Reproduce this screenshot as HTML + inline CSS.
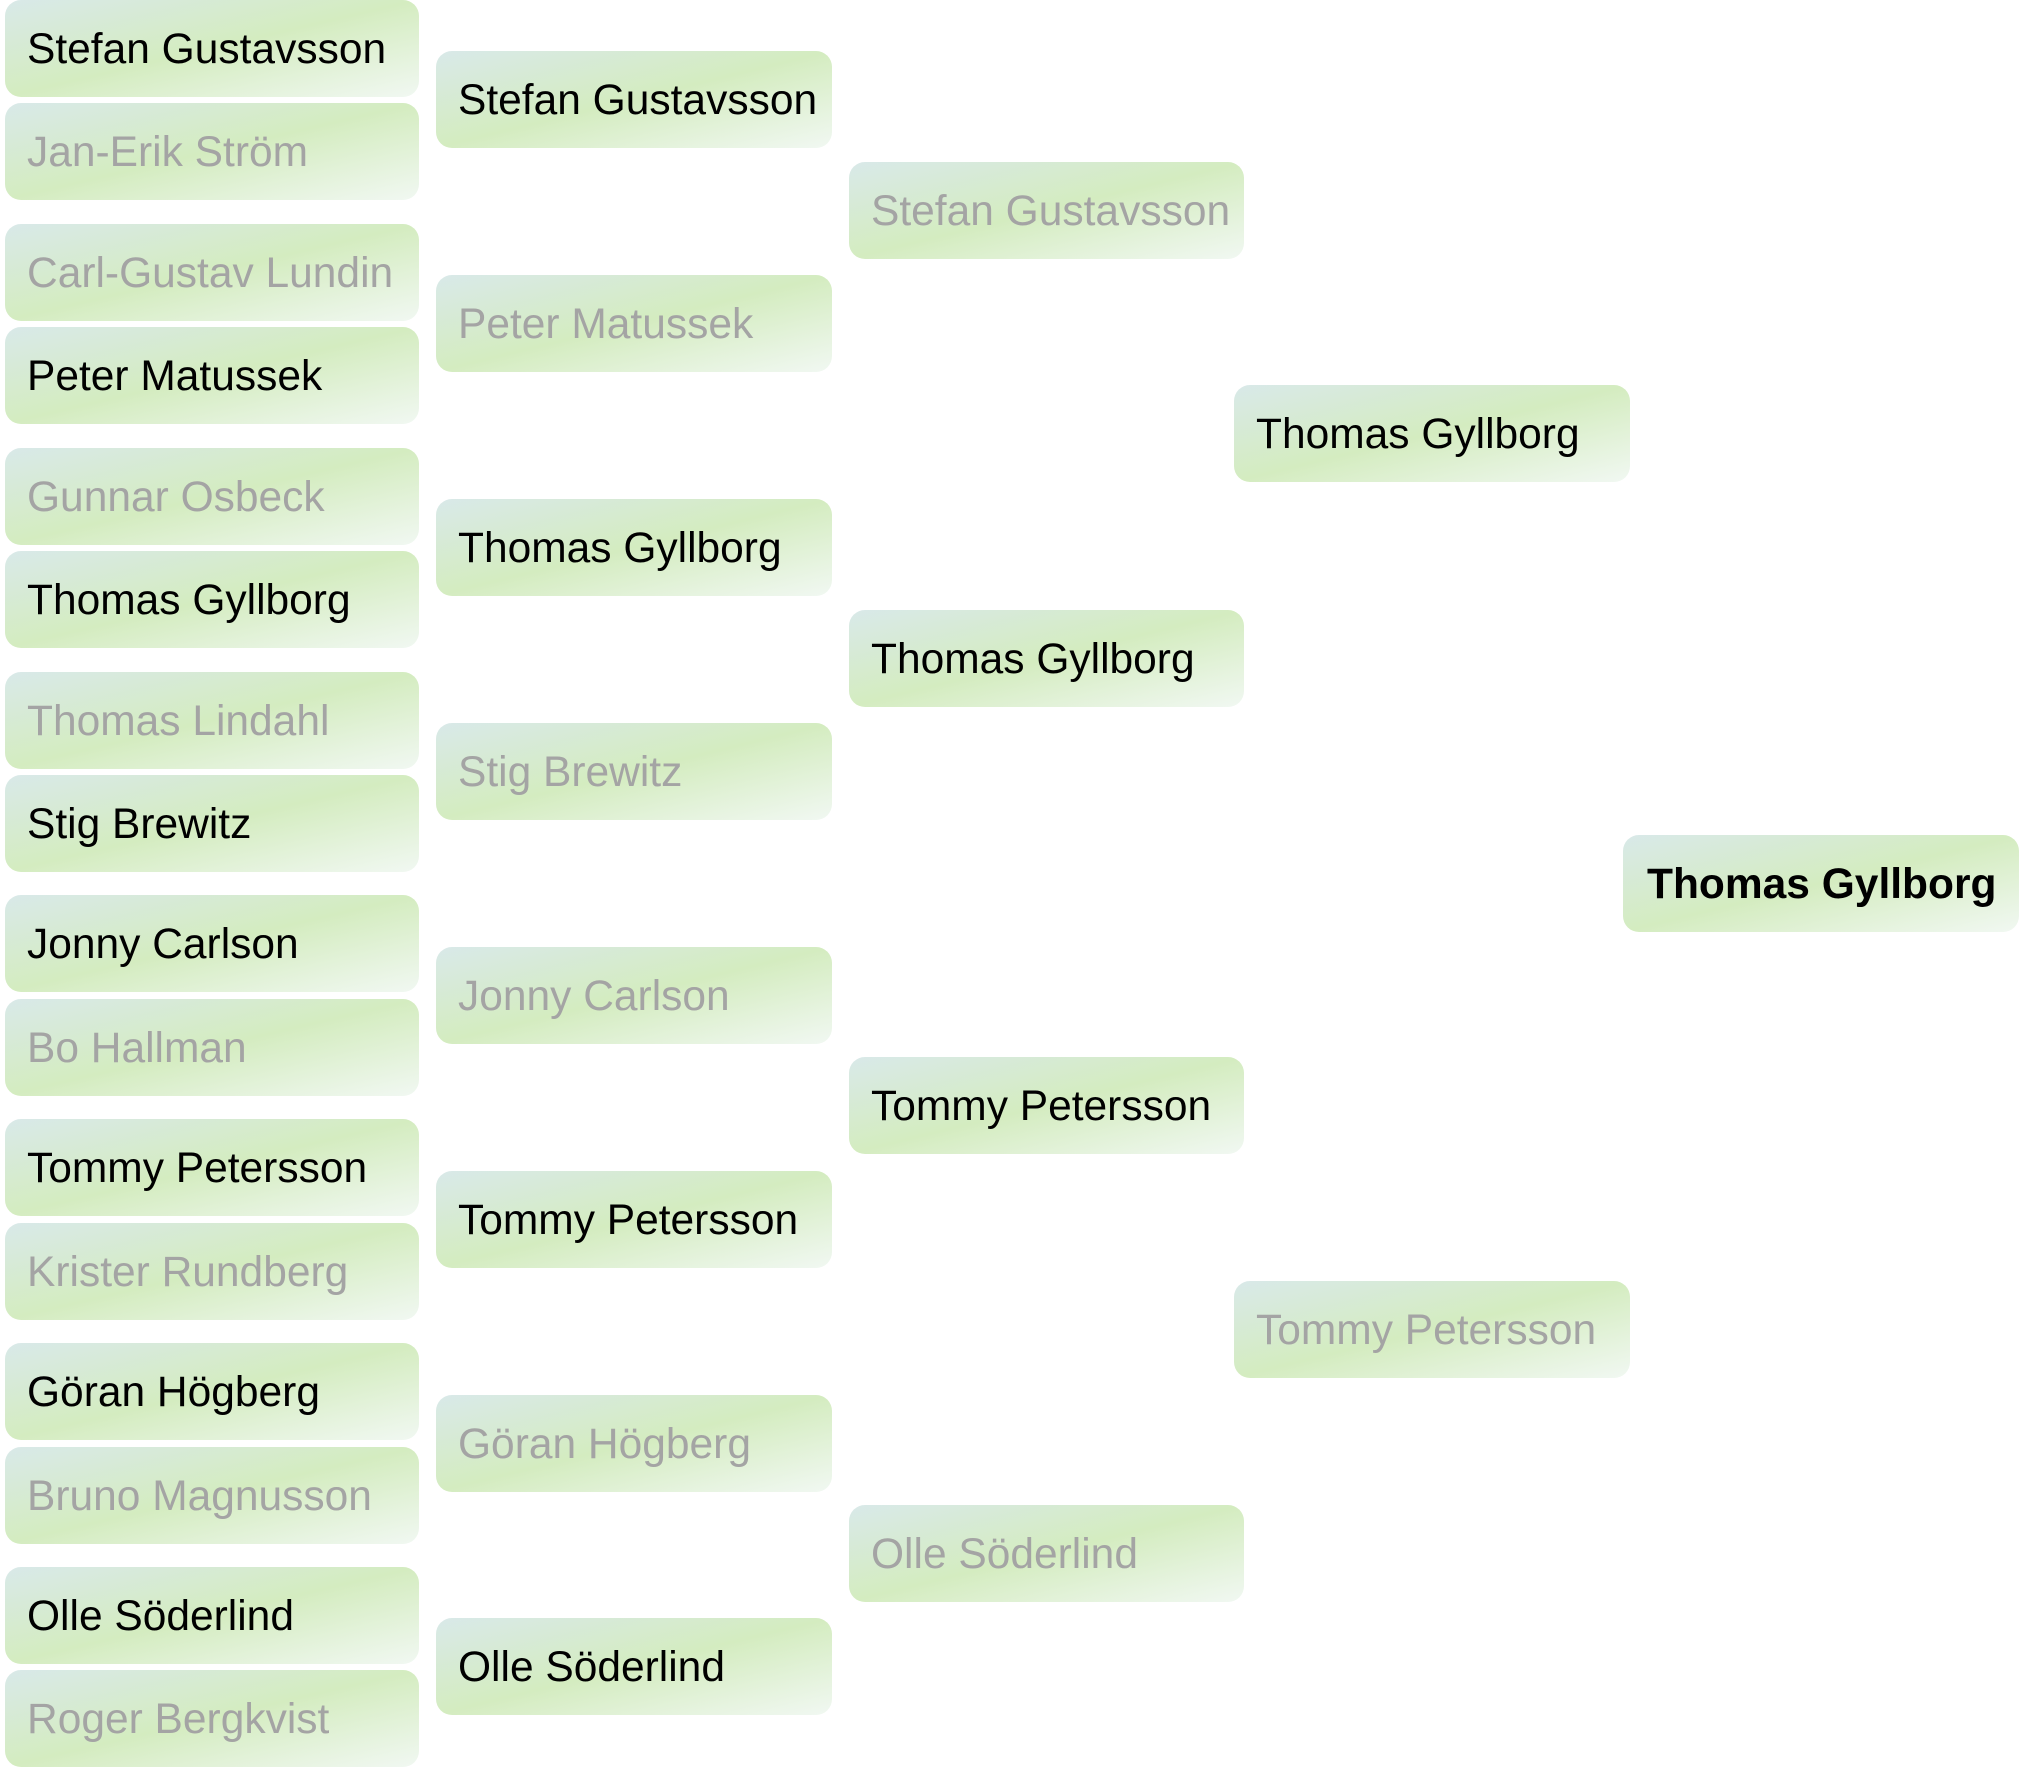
<!DOCTYPE html>
<html>
<head>
<meta charset="utf-8">
<style>
  html, body { margin:0; padding:0; background:#ffffff; }
  body { width:2022px; height:1771px; position:relative; overflow:hidden;
         font-family:"Liberation Sans", Arial, sans-serif; }
  .b { position:absolute; height:97px; border-radius:16px;
       background:linear-gradient(to bottom right, #d9e9e9 0%, #d4ecc0 50%, #f1f8f2 100%);
       display:flex; align-items:center; box-sizing:border-box; padding-left:22px; padding-top:3px;
       font-size:42.5px; white-space:nowrap; }
  .w { color:#000000; }
  .l { color:#a4a4a4; }
  .c1 { left:5px; width:414px; }
  .c2 { left:436px; width:396px; }
  .c3 { left:849px; width:395px; }
  .c4 { left:1234px; width:396px; }
  .c5 { left:1623px; width:396px; padding-left:24px; font-weight:bold; }
</style>
</head>
<body>
<!-- Column 1 -->
<div class="b c1 w" style="top:0px">Stefan Gustavsson</div>
<div class="b c1 l" style="top:103.3px">Jan-Erik Ström</div>
<div class="b c1 l" style="top:223.9px">Carl-Gustav Lundin</div>
<div class="b c1 w" style="top:327.2px">Peter Matussek</div>
<div class="b c1 l" style="top:447.7px">Gunnar Osbeck</div>
<div class="b c1 w" style="top:551px">Thomas Gyllborg</div>
<div class="b c1 l" style="top:671.6px">Thomas Lindahl</div>
<div class="b c1 w" style="top:774.9px">Stig Brewitz</div>
<div class="b c1 w" style="top:895.4px">Jonny Carlson</div>
<div class="b c1 l" style="top:998.7px">Bo Hallman</div>
<div class="b c1 w" style="top:1119.3px">Tommy Petersson</div>
<div class="b c1 l" style="top:1222.6px">Krister Rundberg</div>
<div class="b c1 w" style="top:1343.2px">Göran Högberg</div>
<div class="b c1 l" style="top:1446.5px">Bruno Magnusson</div>
<div class="b c1 w" style="top:1567px">Olle Söderlind</div>
<div class="b c1 l" style="top:1670.3px">Roger Bergkvist</div>

<!-- Column 2 -->
<div class="b c2 w" style="top:51.3px">Stefan Gustavsson</div>
<div class="b c2 l" style="top:275.2px">Peter Matussek</div>
<div class="b c2 w" style="top:499px">Thomas Gyllborg</div>
<div class="b c2 l" style="top:722.9px">Stig Brewitz</div>
<div class="b c2 l" style="top:946.7px">Jonny Carlson</div>
<div class="b c2 w" style="top:1170.6px">Tommy Petersson</div>
<div class="b c2 l" style="top:1394.5px">Göran Högberg</div>
<div class="b c2 w" style="top:1618.3px">Olle Söderlind</div>

<!-- Column 3 -->
<div class="b c3 l" style="top:162px">Stefan Gustavsson</div>
<div class="b c3 w" style="top:609.7px">Thomas Gyllborg</div>
<div class="b c3 w" style="top:1057.4px">Tommy Petersson</div>
<div class="b c3 l" style="top:1505px">Olle Söderlind</div>

<!-- Column 4 -->
<div class="b c4 w" style="top:385px">Thomas Gyllborg</div>
<div class="b c4 l" style="top:1280.5px">Tommy Petersson</div>

<!-- Column 5 -->
<div class="b c5 w" style="top:835px">Thomas Gyllborg</div>
</body>
</html>
